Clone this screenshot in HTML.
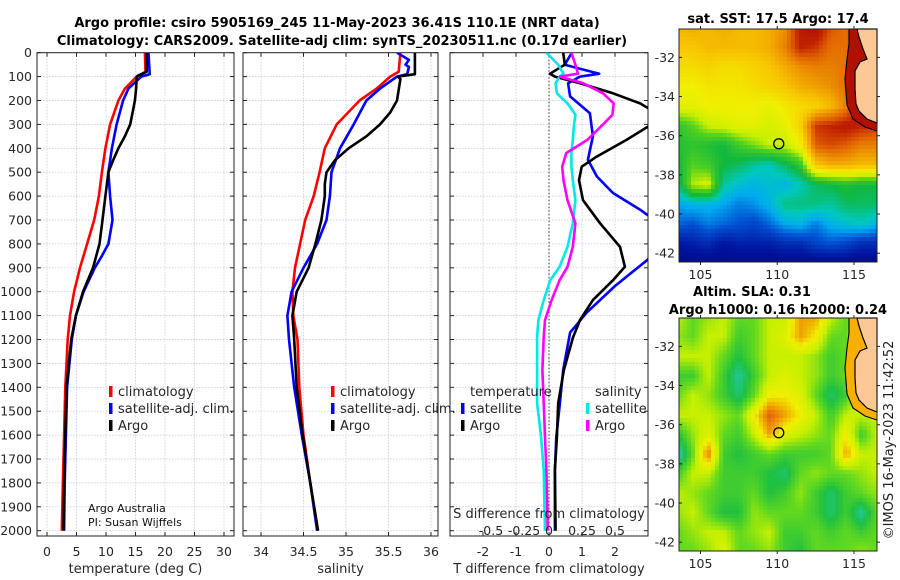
<!DOCTYPE html>
<html><head><meta charset="utf-8">
<style>
html,body{margin:0;padding:0;background:#fff;}
svg{display:block;font-family:"DejaVu Sans","Liberation Sans",sans-serif;}
</style></head>
<body>
<svg id="fig" width="900" height="580" viewBox="0 0 900 580" xmlns="http://www.w3.org/2000/svg">
<text x="337" y="27" text-anchor="middle" font-size="13" font-weight="bold">Argo profile: csiro 5905169_245 11-May-2023 36.41S 110.1E (NRT data)</text>
<text x="342" y="45" text-anchor="middle" font-size="13" font-weight="bold">Climatology: CARS2009. Satellite-adj clim: synTS_20230511.nc (0.17d earlier)</text>
<text x="778" y="23" text-anchor="middle" font-size="13" font-weight="bold">sat. SST: 17.5 Argo: 17.4</text>
<text x="752" y="296" text-anchor="middle" font-size="13" font-weight="bold">Altim. SLA: 0.31</text>
<text x="778" y="314" text-anchor="middle" font-size="13" font-weight="bold">Argo h1000: 0.16 h2000: 0.24</text>
<text transform="translate(893,440) rotate(-90)" text-anchor="middle" font-size="13" fill="#222">©IMOS 16-May-2023 11:42:52</text>
<g id="plots"></g>
</svg>
<script>
// ---------- data ----------
const depthsT = [0,80,100,150,200,300,400,500,600,700,800,900,1000,1100,1200,1300,1400,1600,1800,2000];
const tempClim = [16.6,16.7,15.2,13.2,12.1,10.7,9.9,9.3,8.8,8.0,6.8,5.6,4.6,3.9,3.5,3.3,3.1,2.9,2.7,2.5];
const depthsTB = [0,90,100,150,200,300,400,500,600,700,800,850,900,1000,1100,1200,1400,1600,1800,2000];
const tempSat = [17.2,17.4,16.0,13.8,12.9,11.8,11.0,10.4,10.7,11.1,10.4,9.3,8.1,6.2,4.9,4.2,3.4,3.2,3.0,2.9];
const depthsTA = [0,80,95,100,150,200,250,300,350,400,450,500,600,700,800,900,1000,1100,1200,1400,1600,1800,2000];
const tempArgo = [16.9,16.9,15.5,15.2,15.1,14.9,14.5,14.1,13.2,12.1,11.2,10.4,9.9,9.4,8.9,7.8,6.1,4.9,4.1,3.3,3.1,2.9,2.8];

const depthsS = [0,80,100,150,200,300,400,500,600,700,800,900,1000,1100,1200,1400,1600,1800,2000];
const salClim = [35.64,35.62,35.52,35.36,35.16,34.89,34.75,34.69,34.62,34.52,34.46,34.40,34.37,34.38,34.43,34.45,34.50,34.58,34.67];
const depthsSB = [0,30,50,60,90,100,150,200,300,400,500,600,700,800,900,1000,1100,1200,1400,1600,1800,2000];
const salSat = [35.60,35.74,35.70,35.74,35.72,35.60,35.40,35.24,35.09,34.93,34.83,34.81,34.77,34.66,34.50,34.36,34.31,34.33,34.39,34.48,34.58,34.66];
const depthsSA = [0,90,100,110,200,250,300,350,400,450,500,550,600,700,800,900,1000,1100,1200,1400,1600,1800,2000];
const salArgo = [35.81,35.81,35.61,35.64,35.60,35.52,35.40,35.24,35.03,34.87,34.77,34.75,34.75,34.71,34.64,34.56,34.42,34.37,34.39,34.42,34.49,34.58,34.67];

const dDepthTB = [0,50,88,100,128,183,253,350,448,518,587,657,700,720,865,976,1088,1171,1327,1466,1608,1746,2000];
const dTempSat = [0.69,0.48,1.52,0.94,0.58,0.64,1.24,1.33,1.18,1.45,1.94,2.76,3.2,3.6,3.0,2.0,1.14,0.64,0.43,0.33,0.22,0.18,0.18];
const dDepthTA = [0,50,88,100,128,170,212,240,280,309,365,435,477,533,617,714,812,896,952,1035,1119,1190,1327,1466,1608,1746,2000];
const dTempArgo = [0.43,0.48,0.03,0.18,0.94,1.94,2.76,3.1,3.3,3.0,2.35,1.44,0.99,0.91,1.03,1.55,2.15,2.3,1.94,1.33,0.94,0.73,0.45,0.28,0.24,0.18,0.2];
const dDepthS = [0,50,88,100,128,170,212,260,300,365,420,477,533,617,714,812,896,952,1035,1119,1190,1327,1466,1608,1746,2000];
const dSalSat = [-0.02,0.07,0.11,0.08,0.05,0.06,0.14,0.2,0.19,0.18,0.17,0.17,0.18,0.2,0.18,0.14,0.08,0.01,-0.04,-0.08,-0.09,-0.09,-0.09,-0.06,-0.04,-0.03];
const dSalArgo = [0.17,0.2,0.22,0.08,0.26,0.41,0.49,0.48,0.41,0.29,0.13,0.1,0.11,0.14,0.2,0.18,0.14,0.08,0.02,-0.03,-0.04,-0.05,-0.04,-0.03,-0.02,-0.01];

const depthTicks = [0,100,200,300,400,500,600,700,800,900,1000,1100,1200,1300,1400,1500,1600,1700,1800,1900,2000];
const tempTicks = [0,5,10,15,20,25,30];
const salTicks = [34,34.5,35,35.5,36];
const salTickLabels = ["34","34.5","35","35.5","36"];
const dTTicks = [-2,-1,0,1,2];
const dSTicks = [-0.5,-0.25,0,0.25,0.5];
const dSTickLabels = ["-0.5","-0.25","0","0.25","0.5"];
const latTicks = [-32,-34,-36,-38,-40,-42];
const lonTicks = [105,110,115];

const gridLons = [103.5,104.5,105.5,106.5,107.5,108.5,109.5,110.5,111.5,112.5,113.5,114.5,115.5,116.5];
const gridLats = [-30.5,-31.5,-32.5,-33.5,-34.5,-35.5,-36.5,-37.5,-38.5,-39.5,-40.5,-41.5,-42.5];
const sstGrid = [
[.72,.74,.72,.74,.72,.72,.74,.78,.92,.95,.85,.82,.9,.95],
[.70,.70,.72,.72,.72,.72,.74,.80,.90,.88,.82,.82,.9,.95],
[.66,.66,.68,.66,.66,.68,.70,.74,.78,.80,.80,.82,.92,.95],
[.62,.62,.64,.64,.64,.66,.68,.70,.74,.76,.78,.82,.95,.95],
[.60,.60,.62,.62,.62,.62,.60,.64,.66,.68,.72,.80,.95,.95],
[.46,.50,.56,.58,.60,.60,.58,.60,.68,.88,.90,.92,.90,.88],
[.44,.46,.44,.42,.48,.52,.56,.56,.62,.84,.86,.84,.80,.80],
[.42,.50,.48,.42,.40,.36,.34,.40,.46,.70,.74,.74,.72,.72],
[.38,.55,.58,.36,.32,.30,.32,.30,.34,.40,.42,.44,.42,.42],
[.28,.30,.30,.28,.24,.26,.30,.38,.38,.38,.36,.40,.40,.40],
[.22,.20,.24,.22,.20,.18,.22,.28,.30,.24,.30,.32,.34,.30],
[.10,.12,.14,.10,.12,.12,.12,.14,.14,.18,.20,.18,.14,.14],
[.05,.06,.06,.06,.06,.06,.06,.06,.06,.06,.06,.06,.06,.06]];
const slaGrid = [
[.6,.5,.55,.6,.5,.5,.6,.6,.8,.8,.6,.5,.5,.5],
[.55,.5,.6,.6,.45,.5,.6,.65,.8,.7,.5,.5,.7,.7],
[.6,.6,.6,.5,.4,.5,.6,.6,.6,.55,.45,.5,.7,.7],
[.45,.45,.6,.45,.3,.45,.6,.65,.6,.55,.45,.5,.75,.75],
[.5,.6,.55,.45,.35,.5,.7,.7,.65,.5,.35,.45,.7,.7],
[.6,.6,.6,.55,.5,.7,.9,.8,.7,.6,.45,.6,.6,.6],
[.4,.55,.65,.5,.45,.6,.8,.65,.6,.55,.5,.7,.45,.6],
[.25,.5,.85,.45,.4,.45,.5,.45,.45,.45,.5,.8,.6,.6],
[.45,.6,.6,.45,.45,.45,.4,.35,.5,.55,.5,.5,.55,.6],
[.6,.55,.5,.45,.45,.5,.4,.45,.55,.45,.35,.45,.5,.55],
[.55,.6,.5,.4,.4,.55,.5,.5,.5,.45,.35,.45,.3,.5],
[.5,.55,.6,.6,.5,.55,.6,.45,.45,.5,.45,.5,.45,.5],
[.5,.5,.55,.65,.5,.5,.55,.45,.4,.5,.5,.5,.55,.5]];
const argoLon = 110.1, argoLat = -36.41;

// ---------- helpers ----------
const NS = "http://www.w3.org/2000/svg";
const root = document.getElementById("plots");
function mk(tag, attrs, parent){ const e=document.createElementNS(NS,tag); for(const k in attrs) e.setAttribute(k,attrs[k]); (parent||root).appendChild(e); return e; }
function txt(x,y,s,size,anchor,parent,fill){ const t=mk("text",{x:x,y:y,"font-size":size,"text-anchor":anchor||"middle",fill:fill||"#262626"},parent); t.textContent=s; return t; }

const Y0=52.7, Ypx=0.239, PB=536;
const yD = d => Y0 + d*Ypx;

function panel(name, x0, x1, xs, xticks, xlabels, title){
  const g = mk("g",{});
  
  
  const clipId = name+"-clip";
  const cp = mk("clipPath",{id:clipId},g); mk("rect",{x:x0,y:Y0,width:x1-x0,height:PB-Y0},cp);
  xticks.forEach(v=>{ mk("line",{x1:xs(v),x2:xs(v),y1:Y0,y2:PB,stroke:"#b8c4e8","stroke-width":0.7,"stroke-dasharray":"1.5,1.5"},g); });
  depthTicks.forEach(d=>{ mk("line",{x1:x0,x2:x1,y1:yD(d),y2:yD(d),stroke:"#b8c4e8","stroke-width":0.7,"stroke-dasharray":"1.5,1.5"},g); });
  mk("rect",{x:x0,y:Y0,width:x1-x0,height:PB-Y0,fill:"none",stroke:"#222","stroke-width":1},g);
  xticks.forEach((v,i)=>{ const x=xs(v);
    mk("line",{x1:x,x2:x,y1:PB,y2:PB-4,stroke:"#222"},g); mk("line",{x1:x,x2:x,y1:Y0,y2:Y0+4,stroke:"#222"},g);
    const t=txt(x,556,xlabels[i],12.5,"middle",g);
    
    
  });
  depthTicks.forEach(d=>{ mk("line",{x1:x0,x2:x0+4,y1:yD(d),y2:yD(d),stroke:"#222"},g); mk("line",{x1:x1,x2:x1-4,y1:yD(d),y2:yD(d),stroke:"#222"},g); });
  if(title){ const t=txt((x0+x1)/2,573,title,13,"middle",g);
    
     }
  return {g, clip:"url(#"+clipId+")"};
}
function series(p, name, depths, vals, xs, color){
  let d=""; depths.forEach((dp,i)=>{ d+=(i?"L":"M")+xs(vals[i]).toFixed(1)+","+yD(dp).toFixed(1); });
  const path = mk("path",{d:d,fill:"none",stroke:color,"stroke-width":2.6,"stroke-linejoin":"round","clip-path":p.clip},p.g);
  
  
}
function legendEntry(g,x,y,label,color,name){
  const e = mk("g",{},g);
  
  
  mk("rect",{x:x-2,y:y-10,width:3.5,height:11,fill:color},e);
  txt(x+7,y,label,13,"start",e);
}

const dl = mk("g",{});


depthTicks.forEach(d=>{ txt(32,yD(d)+4.5,String(d),12.5,"end",dl); });

// Panel 1 temperature
const xT = v => 47 + v*5.9;
const p1 = panel("temperature-panel",37,234,xT,tempTicks,tempTicks.map(String),"temperature (deg C)");
series(p1,"temp-climatology-line",depthsT,tempClim,xT,"#ff0000");
series(p1,"temp-satellite-line",depthsTB,tempSat,xT,"#0000ff");
series(p1,"temp-argo-line",depthsTA,tempArgo,xT,"#000000");
legendEntry(p1.g,111,396,"climatology","#ff0000","legend-climatology");
legendEntry(p1.g,111,413,"satellite-adj. clim.","#0000ff","legend-satellite-adj");
legendEntry(p1.g,111,430,"Argo","#000000","legend-argo");
const cr = mk("g",{},p1.g);


txt(88,512,"Argo Australia",11,"start",cr,"#111");
txt(88,526,"PI: Susan Wijffels",11,"start",cr,"#111");

// Panel 2 salinity
const xS = v => 261 + (v-34)*85;
const p2 = panel("salinity-panel",243,438,xS,salTicks,salTickLabels,"salinity");
series(p2,"sal-climatology-line",depthsS,salClim,xS,"#ff0000");
series(p2,"sal-satellite-line",depthsSB,salSat,xS,"#0000ff");
series(p2,"sal-argo-line",depthsSA,salArgo,xS,"#000000");
legendEntry(p2.g,333,396,"climatology","#ff0000","legend-climatology-2");
legendEntry(p2.g,333,413,"satellite-adj. clim.","#0000ff","legend-satellite-adj-2");
legendEntry(p2.g,333,430,"Argo","#000000","legend-argo-2");

// Panel 3 differences
const xDT = v => 549 + v*33;
const xDS = v => 549 + v*132;
const p3 = panel("difference-panel",450,648,xDT,dTTicks,dTTicks.map(String),"T difference from climatology");
const zl = mk("line",{x1:549,x2:549,y1:Y0,y2:PB,stroke:"#333","stroke-width":1,"stroke-dasharray":"1.5,2"},p3.g);


series(p3,"dtemp-satellite-line",dDepthTB,dTempSat,xDT,"#0000ff");
series(p3,"dtemp-argo-line",dDepthTA,dTempArgo,xDT,"#000000");
series(p3,"dsal-satellite-line",dDepthS,dSalSat,xDS,"#00e8e8");
series(p3,"dsal-argo-line",dDepthS,dSalArgo,xDS,"#ff00ff");
txt(470,396,"temperature",13,"start",p3.g);
txt(595,396,"salinity",13,"start",p3.g);
legendEntry(p3.g,463,413,"satellite","#0000ff","legend-dtemp-satellite");
legendEntry(p3.g,463,430,"Argo","#000000","legend-dtemp-argo");
legendEntry(p3.g,588,413,"satellite","#00e8e8","legend-dsal-satellite");
legendEntry(p3.g,588,430,"Argo","#ff00ff","legend-dsal-argo");
const sax = mk("g",{},p3.g);


txt(549,518,"S difference from climatology",13,"middle",sax);
dSTicks.forEach((v,i)=>{ txt(xDS(v)+(v<0?8:0),535,dSTickLabels[i],12.5,"middle",sax); });

// ---------- maps ----------
const LON0=103.6, LON1=116.5, LAT0=-30.55, LAT1=-42.45;
function cmapInterp(stops, v){
  v=Math.max(0,Math.min(1,v));
  if(v<=stops[0][0]) return "rgb("+stops[0][1].join(",")+")";
  for(let i=1;i<stops.length;i++){ if(v<=stops[i][0]){ const a=stops[i-1],b=stops[i],t=(v-a[0])/(b[0]-a[0]||1);
      const c=[0,1,2].map(k=>Math.round(a[1][k]+(b[1][k]-a[1][k])*t)); return "rgb("+c.join(",")+")"; } }
  const l=stops[stops.length-1][1]; return "rgb("+l.join(",")+")";
}
const jetStops=[[0,[0,0,110]],[0.1,[0,20,160]],[0.2,[0,80,210]],[0.28,[0,170,240]],[0.34,[0,200,190]],[0.42,[16,184,64]],[0.5,[80,208,32]],[0.56,[200,240,0]],[0.62,[240,240,0]],[0.7,[248,200,0]],[0.76,[240,160,0]],[0.84,[224,96,0]],[0.9,[192,32,0]],[1,[160,0,0]]];
const slaStops=[[0.2,[0,200,200]],[0.3,[32,200,160]],[0.4,[32,192,64]],[0.5,[96,216,32]],[0.6,[200,240,0]],[0.7,[240,240,0]],[0.8,[240,160,0]],[0.9,[224,96,16]]];
function sample(grid, lon, lat){
  let fx=(lon-gridLons[0]); let fy=(gridLats[0]-lat);
  fx=Math.max(0,Math.min(gridLons.length-1.001,fx)); fy=Math.max(0,Math.min(gridLats.length-1.001,fy));
  const i=Math.floor(fx), j=Math.floor(fy), tx=fx-i, ty=fy-j;
  return grid[j][i]*(1-tx)*(1-ty)+grid[j][i+1]*tx*(1-ty)+grid[j+1][i]*(1-tx)*ty+grid[j+1][i+1]*tx*ty;
}
function map(name, mx0, my0, mw, mh, grid, stops, cell, shelfColor){
  const g = mk("g",{});
  
  
  const lx = lon => mx0 + (lon-LON0)/(LON1-LON0)*mw;
  const ly = lat => my0 + (LAT0-lat)/(LAT0-LAT1)*mh;
  const img = mk("g",{},g);
  
  
  for(let y=0;y<mh;y+=cell){ for(let x=0;x<mw;x+=cell){
    const lon=LON0+(x+cell/2)/mw*(LON1-LON0), lat=LAT0-(y+cell/2)/mh*(LAT0-LAT1);
    mk("rect",{x:mx0+x,y:my0+y,width:Math.min(cell,mw-x)+0.3,height:Math.min(cell,mh-y)+0.3,fill:cmapInterp(stops,sample(grid,lon,lat))},img);
  }}
  const toP = arr => arr.map(p=>(mx0+p[0])+","+(my0+p[1])).join(" ");
  const shelf=[[170,0],[180,0],[184,20],[188,30],[180,36],[177,44],[177,70],[180,78],[190,88],[198,93],[198,102],[186,98],[174,90],[168,76],[166,50],[168,30],[170,15]];
  const land=[[178,0],[198,0],[198,94],[188,90],[180,82],[177,75],[176,60],[176,42],[181,33],[188,30],[184,20],[180,8]];
  mk("polygon",{points:toP(shelf),fill:shelfColor},g);
  mk("polyline",{points:toP([[198,102],[186,98],[174,90],[168,76],[166,50],[168,30],[170,15],[170,0]]),fill:"none",stroke:"#000","stroke-width":1.1},g);
  const ld = mk("polygon",{points:toP(land),fill:"#fcc896",stroke:"#000","stroke-width":1.2},g);
  
  
  mk("rect",{x:mx0,y:my0,width:mw,height:mh,fill:"none",stroke:"#222","stroke-width":1},g);
  const mkr = mk("circle",{cx:lx(argoLon),cy:ly(argoLat),r:5,fill:"none",stroke:"#000","stroke-width":1.3},g);
  
  
  latTicks.forEach(v=>{ const y=ly(v);
    mk("line",{x1:mx0,x2:mx0+3,y1:y,y2:y,stroke:"#222"},g); mk("line",{x1:mx0+mw,x2:mx0+mw+3,y1:y,y2:y,stroke:"#222"},g);
    txt(mx0-4,y+4.5,String(v),12.5,"end",g); });
  lonTicks.forEach(v=>{ const x=lx(v);
    mk("line",{x1:x,x2:x,y1:my0+mh,y2:my0+mh+3,stroke:"#222"},g); mk("line",{x1:x,x2:x,y1:my0,y2:my0-3,stroke:"#222"},g);
    txt(x,my0+mh+17,String(v),12.5,"middle",g); });
}
map("sst-map",679,29,198,233,sstGrid,jetStops,4,"#b01000");
map("sla-map",679,318,198,233,slaGrid,slaStops,4,"#f8b000");
</script>
</body></html>
